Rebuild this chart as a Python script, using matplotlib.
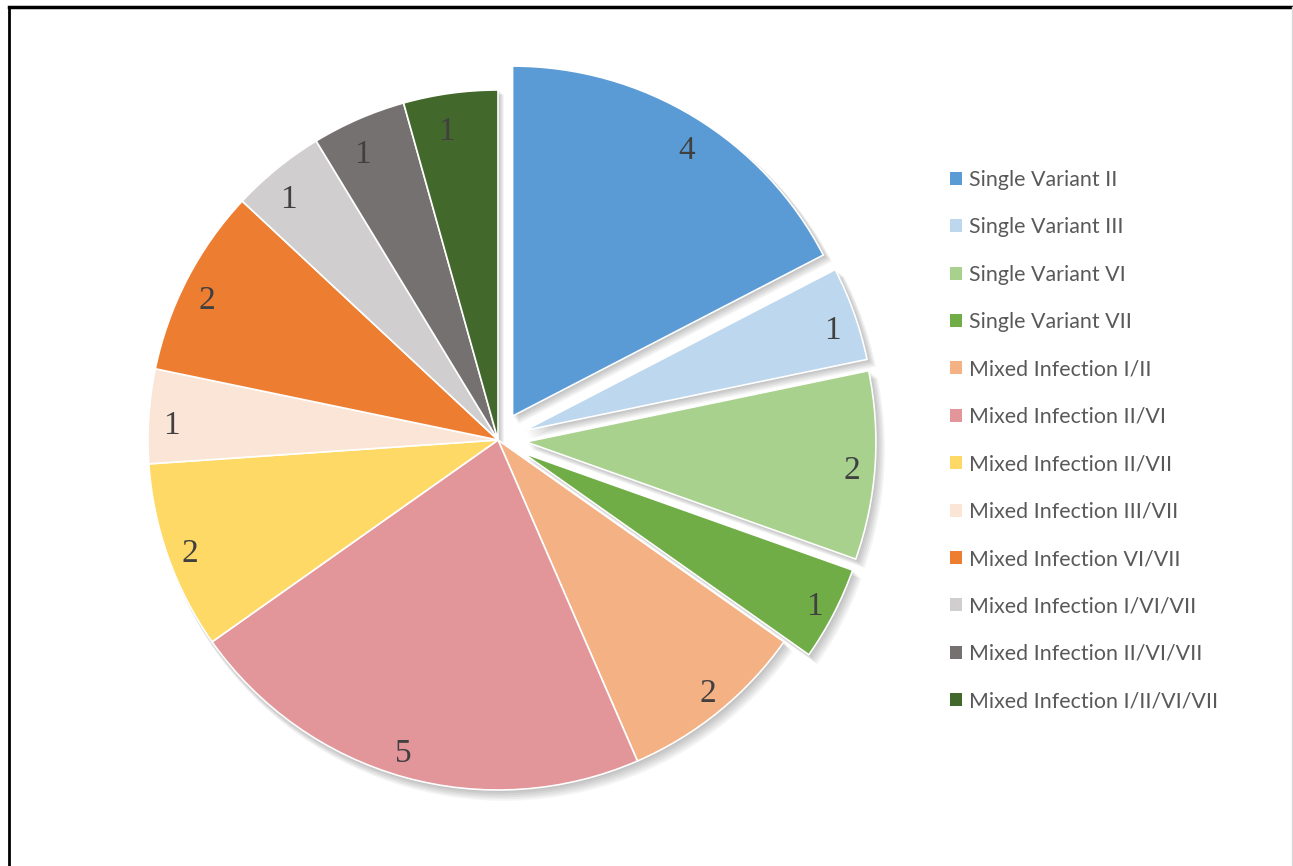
import matplotlib
matplotlib.use("Agg")
import matplotlib.pyplot as plt
from matplotlib.patches import Patch
from matplotlib.lines import Line2D

# infection groups and counts
labels = ["Single Variant II", "Single Variant III", "Single Variant VI", "Single Variant VII",
          "Mixed Infection I/II", "Mixed Infection II/VI", "Mixed Infection II/VII",
          "Mixed Infection III/VII", "Mixed Infection VI/VII", "Mixed Infection I/VI/VII",
          "Mixed Infection II/VI/VII", "Mixed Infection I/II/VI/VII"]
counts = [4, 1, 2, 1, 2, 5, 2, 1, 2, 1, 1, 1]
colors = ["#5B9BD5", "#BDD7EE", "#A9D18E", "#70AD47", "#F4B183", "#E29699",
          "#FFD966", "#FBE5D6", "#ED7D31", "#D0CECE", "#767171", "#43682B"]
# single variants are pulled out of the pie
explode = [0.08, 0.08, 0.08, 0.08, 0, 0, 0, 0, 0, 0, 0, 0]

W, H = 1293, 866
fig = plt.figure(figsize=(W / 100, H / 100), dpi=100)

cx, cy, r_px = 498, 440, 350
half = 400
ax = fig.add_axes([(cx - half) / W, (H - cy - half) / H, 2 * half / W, 2 * half / H])
lim = half / r_px
px = 1.0 / r_px

# soft drop shadow: a few faint grey copies nudged down-right
for k in range(1, 7):
    ax.pie(counts, explode=explode, startangle=90, counterclock=False,
           radius=1 + 0.5 * k * px, center=(1.0 * k * px, -1.3 * k * px),
           colors=["#000000"] * len(counts),
           wedgeprops=dict(alpha=0.045, linewidth=0), frame=True)

wedges, texts = ax.pie(counts, explode=explode, startangle=90, counterclock=False,
                       colors=colors, labels=[str(c) for c in counts],
                       labeldistance=0.91, frame=True,
                       wedgeprops=dict(edgecolor="white", linewidth=1.2),
                       textprops=dict(family="Liberation Serif", fontsize=24, color="#404040"))
# digits have no descenders, nudge them down so they sit centred
for t in texts:
    x, y = t.get_position()
    t.set_position((x, y - 7 * px))

ax.set_xlim(-lim, lim)
ax.set_ylim(-lim, lim)
ax.set_aspect("equal")
ax.axis("off")

handles = [Patch(facecolor=c, edgecolor="none") for c in colors]
fig.legend(handles, labels, loc="upper left",
           bbox_to_anchor=(950 / W, 1 - 170 / H), frameon=False,
           prop=dict(family="Lato", size=15.4), labelcolor="#595959",
           handlelength=0.56, handleheight=0.56, handletextpad=0.33,
           labelspacing=1.28, borderaxespad=0, borderpad=0)

# outer frame (top and left dark, right faint)
fig.add_artist(Line2D([9 / W, 9 / W], [0, 1 - 7 / H], color="black", lw=2,
                      transform=fig.transFigure))
fig.add_artist(Line2D([9 / W, 1292 / W], [1 - 7 / H, 1 - 7 / H], color="black", lw=2.5,
                      transform=fig.transFigure))
fig.add_artist(Line2D([1291.5 / W, 1291.5 / W], [0, 1 - 7 / H], color="#d9d9d9", lw=1,
                      transform=fig.transFigure))

fig.savefig("out.png", dpi=100, facecolor="white")
